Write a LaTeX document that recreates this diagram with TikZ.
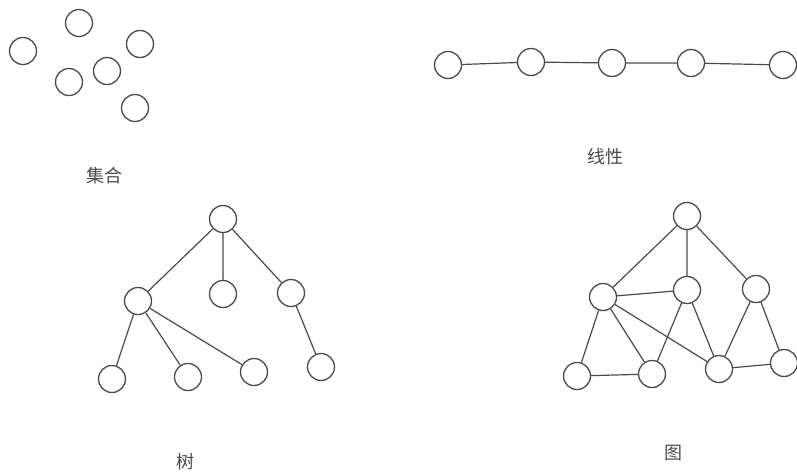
\documentclass[tikz,border=0pt]{standalone}
\usepackage{fontspec}
\newfontfamily\cjk{Noto Sans CJK SC}
\definecolor{ink}{HTML}{4A4A4A}
\begin{document}
\begin{tikzpicture}[x=1pt,y=-1pt,
  vert/.style={circle,draw=ink,line width=1.3pt,minimum size=27pt,inner sep=0pt},
  edge/.style={draw=ink,line width=1.2pt},
  lab/.style={text=ink,font=\cjk\fontsize{18pt}{20pt}\selectfont}]
\useasboundingbox[fill=white] (0,0) rectangle (797,475);
% set
\node[vert] (s1) at (23,51) {};
\node[vert] (s2) at (79,23) {};
\node[vert] (s3) at (140,44) {};
\node[vert] (s4) at (69,82) {};
\node[vert] (s5) at (107,71) {};
\node[vert] (s6) at (135,108) {};
\node[lab] (tset) at (104,176) {集合};
% linear
\node[vert] (l1) at (448,65) {};
\node[vert] (l2) at (531,62) {};
\node[vert] (l3) at (612,63) {};
\node[vert] (l4) at (691,63) {};
\node[vert] (l5) at (783,65) {};
\draw[edge] (l1)--(l2) (l2)--(l3) (l3)--(l4) (l4)--(l5);
\node[lab] (tlin) at (605,157) {线性};
% tree
\node[vert] (tr) at (223,219) {};
\node[vert] (ta) at (138,301) {};
\node[vert] (tb) at (223,294) {};
\node[vert] (tc) at (291,293) {};
\node[vert] (t1) at (112,379) {};
\node[vert] (t2) at (188,377) {};
\node[vert] (t3) at (254,372) {};
\node[vert] (t4) at (321,367) {};
\draw[edge] (tr)--(ta) (tr)--(tb) (tr)--(tc) (ta)--(t1) (ta)--(t2) (ta)--(t3) (tc)--(t4);
\node[lab] (ttree) at (185,462) {树};
% graph
\node[vert] (g0) at (687,216) {};
\node[vert] (gp) at (603,297) {};
\node[vert] (gq) at (687,290) {};
\node[vert] (gr) at (756,289) {};
\node[vert] (g1) at (577,376) {};
\node[vert] (g2) at (652,374) {};
\node[vert] (g3) at (719,369) {};
\node[vert] (g4) at (784,363) {};
\draw[edge] (g0)--(gp) (g0)--(gq) (g0)--(gr) (gp)--(gq) (gp)--(g1) (gp)--(g2) (gp)--(g3)
  (gq)--(g2) (gq)--(g3) (gr)--(g3) (gr)--(g4) (g1)--(g2) (g3)--(g4);
\node[lab] (tgraph) at (673,453) {图};
\end{tikzpicture}
\end{document}
